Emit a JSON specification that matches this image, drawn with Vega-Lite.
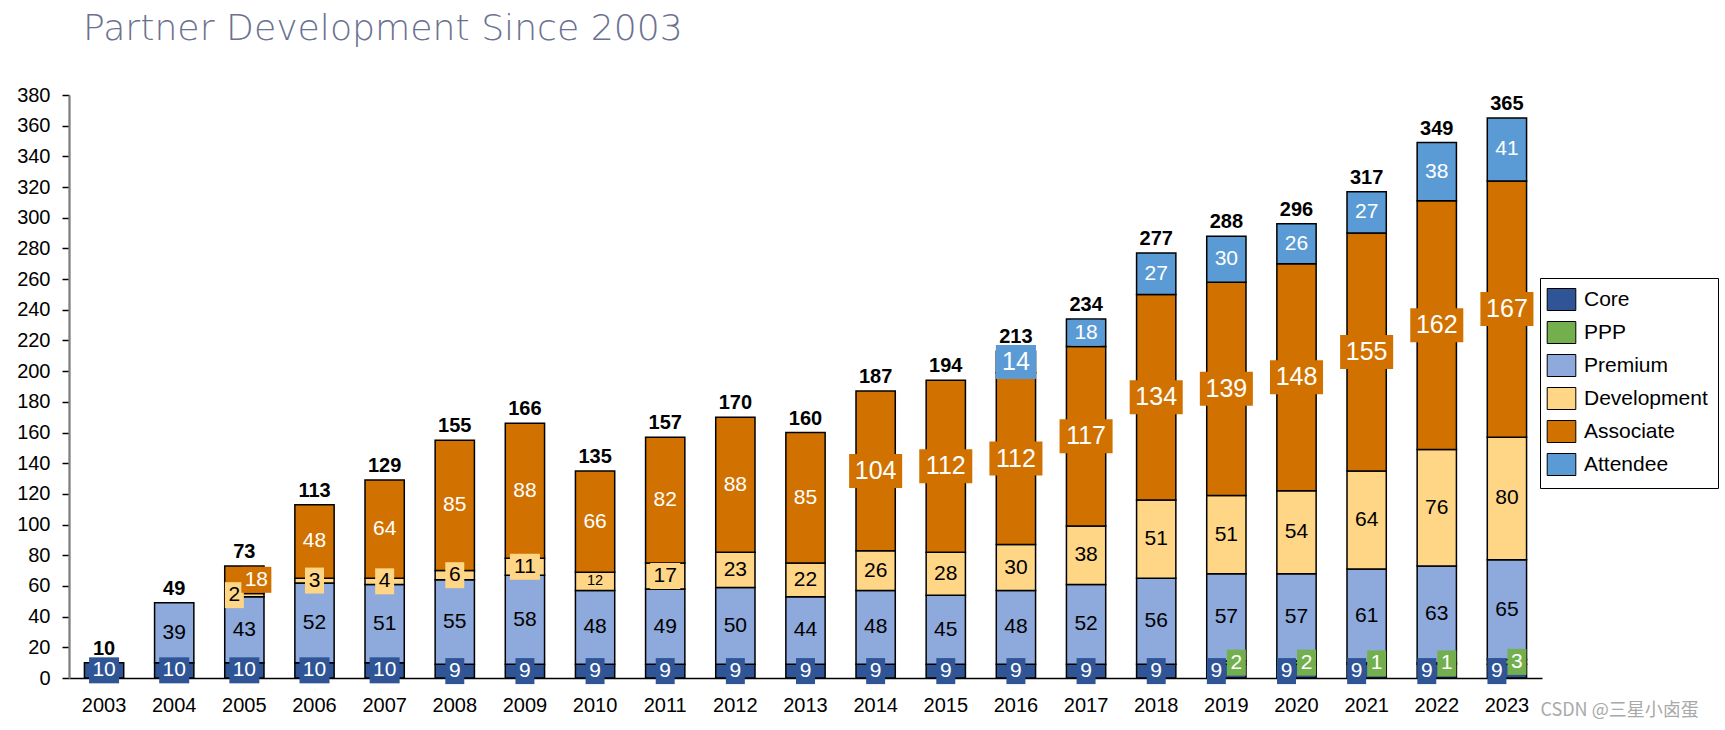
{
  "$schema": "https://vega.github.io/schema/vega-lite/v6.json",
  "width": 1473,
  "height": 583,
  "autosize": {"type": "none"},
  "padding": {"left": 69, "top": 95, "right": 183, "bottom": 52},
  "background": "white",
  "config": {
    "view": {"stroke": null},
    "font": "Liberation Sans",
    "axisY": {
      "title": null,
      "labelOverlap": false,
      "labelFont": "Liberation Sans",
      "labelFontSize": 20,
      "labelColor": "black",
      "labelPadding": 12,
      "tickSize": 7,
      "tickColor": "black",
      "tickWidth": 1.5,
      "domainColor": "#808080",
      "domainWidth": 2.3,
      "grid": false
    }
  },
  "title": {
    "text": "Partner Development Since 2003",
    "anchor": "start",
    "frame": "group",
    "font": "DejaVu Sans",
    "fontWeight": 200,
    "fontSize": 36.2,
    "color": "#6b7190",
    "dx": 14,
    "baseline": "alphabetic",
    "offset": 9
  },
  "data": {
    "values": [
      {"year": 2003, "type": "Core", "value": 10},
      {"year": 2004, "type": "Core", "value": 10},
      {"year": 2004, "type": "Premium", "value": 39},
      {"year": 2005, "type": "Core", "value": 10},
      {"year": 2005, "type": "Premium", "value": 43},
      {"year": 2005, "type": "Development", "value": 2},
      {"year": 2005, "type": "Associate", "value": 18},
      {"year": 2006, "type": "Core", "value": 10},
      {"year": 2006, "type": "Premium", "value": 52},
      {"year": 2006, "type": "Development", "value": 3},
      {"year": 2006, "type": "Associate", "value": 48},
      {"year": 2007, "type": "Core", "value": 10},
      {"year": 2007, "type": "Premium", "value": 51},
      {"year": 2007, "type": "Development", "value": 4},
      {"year": 2007, "type": "Associate", "value": 64},
      {"year": 2008, "type": "Core", "value": 9},
      {"year": 2008, "type": "Premium", "value": 55},
      {"year": 2008, "type": "Development", "value": 6},
      {"year": 2008, "type": "Associate", "value": 85},
      {"year": 2009, "type": "Core", "value": 9},
      {"year": 2009, "type": "Premium", "value": 58},
      {"year": 2009, "type": "Development", "value": 11},
      {"year": 2009, "type": "Associate", "value": 88},
      {"year": 2010, "type": "Core", "value": 9},
      {"year": 2010, "type": "Premium", "value": 48},
      {"year": 2010, "type": "Development", "value": 12},
      {"year": 2010, "type": "Associate", "value": 66},
      {"year": 2011, "type": "Core", "value": 9},
      {"year": 2011, "type": "Premium", "value": 49},
      {"year": 2011, "type": "Development", "value": 17},
      {"year": 2011, "type": "Associate", "value": 82},
      {"year": 2012, "type": "Core", "value": 9},
      {"year": 2012, "type": "Premium", "value": 50},
      {"year": 2012, "type": "Development", "value": 23},
      {"year": 2012, "type": "Associate", "value": 88},
      {"year": 2013, "type": "Core", "value": 9},
      {"year": 2013, "type": "Premium", "value": 44},
      {"year": 2013, "type": "Development", "value": 22},
      {"year": 2013, "type": "Associate", "value": 85},
      {"year": 2014, "type": "Core", "value": 9},
      {"year": 2014, "type": "Premium", "value": 48},
      {"year": 2014, "type": "Development", "value": 26},
      {"year": 2014, "type": "Associate", "value": 104},
      {"year": 2015, "type": "Core", "value": 9},
      {"year": 2015, "type": "Premium", "value": 45},
      {"year": 2015, "type": "Development", "value": 28},
      {"year": 2015, "type": "Associate", "value": 112},
      {"year": 2016, "type": "Core", "value": 9},
      {"year": 2016, "type": "Premium", "value": 48},
      {"year": 2016, "type": "Development", "value": 30},
      {"year": 2016, "type": "Associate", "value": 112},
      {"year": 2016, "type": "Attendee", "value": 14},
      {"year": 2017, "type": "Core", "value": 9},
      {"year": 2017, "type": "Premium", "value": 52},
      {"year": 2017, "type": "Development", "value": 38},
      {"year": 2017, "type": "Associate", "value": 117},
      {"year": 2017, "type": "Attendee", "value": 18},
      {"year": 2018, "type": "Core", "value": 9},
      {"year": 2018, "type": "Premium", "value": 56},
      {"year": 2018, "type": "Development", "value": 51},
      {"year": 2018, "type": "Associate", "value": 134},
      {"year": 2018, "type": "Attendee", "value": 27},
      {"year": 2019, "type": "Core", "value": 9},
      {"year": 2019, "type": "PPP", "value": 2},
      {"year": 2019, "type": "Premium", "value": 57},
      {"year": 2019, "type": "Development", "value": 51},
      {"year": 2019, "type": "Associate", "value": 139},
      {"year": 2019, "type": "Attendee", "value": 30},
      {"year": 2020, "type": "Core", "value": 9},
      {"year": 2020, "type": "PPP", "value": 2},
      {"year": 2020, "type": "Premium", "value": 57},
      {"year": 2020, "type": "Development", "value": 54},
      {"year": 2020, "type": "Associate", "value": 148},
      {"year": 2020, "type": "Attendee", "value": 26},
      {"year": 2021, "type": "Core", "value": 9},
      {"year": 2021, "type": "PPP", "value": 1},
      {"year": 2021, "type": "Premium", "value": 61},
      {"year": 2021, "type": "Development", "value": 64},
      {"year": 2021, "type": "Associate", "value": 155},
      {"year": 2021, "type": "Attendee", "value": 27},
      {"year": 2022, "type": "Core", "value": 9},
      {"year": 2022, "type": "PPP", "value": 1},
      {"year": 2022, "type": "Premium", "value": 63},
      {"year": 2022, "type": "Development", "value": 76},
      {"year": 2022, "type": "Associate", "value": 162},
      {"year": 2022, "type": "Attendee", "value": 38},
      {"year": 2023, "type": "Core", "value": 9},
      {"year": 2023, "type": "PPP", "value": 3},
      {"year": 2023, "type": "Premium", "value": 65},
      {"year": 2023, "type": "Development", "value": 80},
      {"year": 2023, "type": "Associate", "value": 167},
      {"year": 2023, "type": "Attendee", "value": 41}
    ]
  },
  "transform": [
    {"calculate": "indexof(['Core','PPP','Premium','Development','Associate','Attendee'], datum.type)", "as": "ord"},
    {"stack": "value", "groupby": ["year"], "sort": [{"field": "ord", "order": "ascending"}], "as": ["y0", "y1"]},
    {"calculate": "(datum.y0 + datum.y1) / 2", "as": "mid"}
  ],
  "encoding": {
    "x": {
      "field": "year",
      "type": "ordinal",
      "scale": {"paddingInner": 0.44, "paddingOuter": 0.22},
      "axis": {
        "title": "CSDN @三星小卤蛋",
        "titleFont": "Noto Sans CJK SC",
        "titleFontSize": 18,
        "titleFontWeight": "normal",
        "titleColor": "#a9a9a9",
        "titleX": 1471,
        "titleY": 32,
        "titleAlign": "left",
        "titleBaseline": "middle",
        "labelAngle": 0,
        "labelFont": "Liberation Sans",
        "labelFontSize": 20,
        "labelColor": "black",
        "labelPadding": 17,
        "ticks": false,
        "domainColor": "black",
        "domainWidth": 1.5,
        "grid": false
      }
    }
  },
  "layer": [
    {
      "mark": {"type": "bar", "stroke": "black", "strokeWidth": 1.5},
      "encoding": {
        "y": {
          "field": "y0",
          "type": "quantitative",
          "scale": {"domain": [0, 380], "nice": false},
          "axis": {"values": [0, 20, 40, 60, 80, 100, 120, 140, 160, 180, 200, 220, 240, 260, 280, 300, 320, 340, 360, 380]}
        },
        "y2": {"field": "y1"},
        "color": {
          "field": "type",
          "type": "nominal",
          "scale": {
            "domain": ["Core", "PPP", "Premium", "Development", "Associate", "Attendee"],
            "range": ["#2F5597", "#74AF4E", "#8EA9DB", "#FFD686", "#D17200", "#5B9BD5"]
          },
          "legend": {
            "title": null,
            "orient": "none",
            "legendX": 1471,
            "legendY": 183,
            "padding": 10,
            "strokeColor": "black",
            "fillColor": "white",
            "symbolType": "M-1.3,-1H1.3V1H-1.3Z",
            "symbolSize": 484,
            "symbolStrokeColor": "black",
            "symbolStrokeWidth": 1,
            "symbolOpacity": 1,
            "labelFont": "Liberation Sans",
            "labelFontSize": 21,
            "labelColor": "black",
            "labelOffset": 11,
            "labelLimit": 300,
            "rowPadding": 6
          }
        }
      }
    },
    {
      "transform": [{"filter": "!(datum.type == 'Development' && datum.year == 2010)"}],
      "mark": {
        "type": "point",
        "filled": true,
        "opacity": 1,
        "strokeWidth": 0,
        "xOffset": {"expr": "datum.type == 'PPP' ? 10 : (datum.type == 'Core' && datum.year >= 2019 ? -10 : (datum.year == 2005 && datum.type == 'Development' ? -10 : (datum.year == 2005 && datum.type == 'Associate' ? 12 : 0)))"}
      },
      "encoding": {
        "y": {"field": "mid", "type": "quantitative", "axis": {"values": [0, 20, 40, 60, 80, 100, 120, 140, 160, 180, 200, 220, 240, 260, 280, 300, 320, 340, 360, 380]}},
        "color": {"field": "type", "type": "nominal", "legend": null},
        "shape": {
          "condition": [
            {"test": "datum.type == 'Associate' && datum.value >= 100", "value": "M-1.56,-1H1.56V1H-1.56Z"},
            {"test": "datum.type == 'Attendee' && datum.year == 2016", "value": "M-1.18,-1H1.18V1H-1.18Z"},
            {"test": "datum.value >= 10", "value": "M-1.154,-1H1.154V1H-1.154Z"}
          ],
          "value": "M-0.73,-1H0.73V1H-0.73Z"
        },
        "size": {
          "condition": {"test": "(datum.type == 'Associate' && datum.value >= 100) || (datum.type == 'Attendee' && datum.year == 2016)", "value": 1156},
          "value": 676
        }
      }
    },
    {
      "mark": {
        "type": "text",
        "font": "Liberation Sans",
        "align": "center",
        "baseline": "middle",
        "fontSize": {"expr": "(datum.type == 'Associate' && datum.value >= 100) || (datum.type == 'Attendee' && datum.year == 2016) ? 25 : (datum.type == 'Development' && datum.year == 2010 ? 14.5 : 21)"},
        "xOffset": {"expr": "datum.type == 'PPP' ? 10 : (datum.type == 'Core' && datum.year >= 2019 ? -10 : (datum.year == 2005 && datum.type == 'Development' ? -10 : (datum.year == 2005 && datum.type == 'Associate' ? 12 : 0)))"}
      },
      "encoding": {
        "y": {"field": "mid", "type": "quantitative", "axis": {"values": [0, 20, 40, 60, 80, 100, 120, 140, 160, 180, 200, 220, 240, 260, 280, 300, 320, 340, 360, 380]}},
        "text": {"field": "value", "type": "quantitative"},
        "color": {
          "condition": {"test": "datum.type == 'Premium' || datum.type == 'Development'", "value": "black"},
          "value": "white"
        }
      }
    },
    {
      "transform": [{"aggregate": [{"op": "sum", "field": "value", "as": "total"}], "groupby": ["year"]}],
      "mark": {
        "type": "text",
        "font": "Liberation Sans",
        "fontWeight": "bold",
        "fontSize": 20,
        "align": "center",
        "baseline": "alphabetic",
        "dy": -8,
        "color": "black"
      },
      "encoding": {
        "y": {"field": "total", "type": "quantitative", "axis": {"values": [0, 20, 40, 60, 80, 100, 120, 140, 160, 180, 200, 220, 240, 260, 280, 300, 320, 340, 360, 380]}},
        "text": {"field": "total", "type": "quantitative"}
      }
    }
  ]
}
